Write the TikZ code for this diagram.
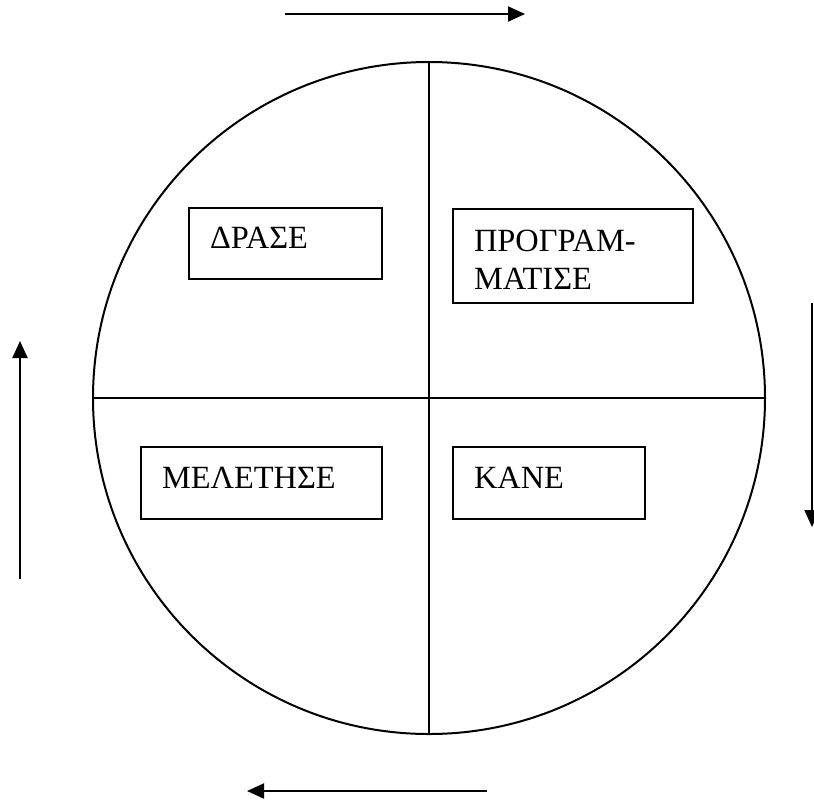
\documentclass[tikz,border=0pt]{standalone}
\usepackage{fontspec}
\setmainfont{Liberation Serif}
\usetikzlibrary{arrows.meta}

\begin{document}
\begin{tikzpicture}[x=0.5pt, y=-0.5pt,
    stage/.style={draw, line width=1pt, anchor=north west, inner xsep=10.5pt, align=left,
        font=\fontsize{16.2}{19}\selectfont, text depth=5.5pt},
    turn/.style={line width=1pt, -{Triangle[length=8.5pt, width=7.5pt]}}]
    \useasboundingbox (0, 0) rectangle (814, 805);
    \node[circle, draw, line width=1pt, minimum size=336pt, inner sep=0pt, outer sep=0pt] (wheel) at (429, 398) {};
    \draw[line width=1pt] (wheel.north) -- (wheel.south);
    \draw[line width=1pt] (wheel.west) -- (wheel.east);
    \node[stage, text width=75.5pt, minimum height=35.5pt] (act) at (188, 207) {ΔΡΑΣΕ};
    \node[stage, text width=99pt, minimum height=47pt, text depth=15.5pt] (plan) at (452, 208) {ΠΡΟΓΡΑΜ-\\ΜΑΤΙΣΕ};
    \node[stage, text width=99.5pt, minimum height=36pt] (study) at (140, 446) {ΜΕΛΕΤΗΣΕ};
    \node[stage, text width=75pt, minimum height=36pt] (do) at (452, 446) {ΚΑΝΕ};
    \coordinate (topA) at (285, 14);
    \coordinate (topB) at (525, 14);
    \coordinate (rightA) at (812, 303);
    \coordinate (rightB) at (812, 527);
    \coordinate (bottomA) at (487, 791);
    \coordinate (bottomB) at (247, 791);
    \coordinate (leftA) at (20, 579);
    \coordinate (leftB) at (20, 341);
    \draw[turn] (topA) -- (topB);
    \draw[turn] (rightA) -- (rightB);
    \draw[turn] (bottomA) -- (bottomB);
    \draw[turn] (leftA) -- (leftB);
\end{tikzpicture}
\end{document}
